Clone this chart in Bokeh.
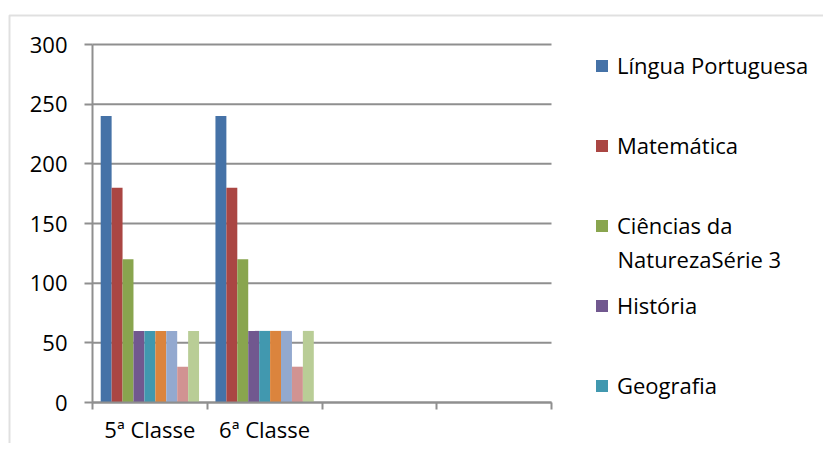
from bokeh.plotting import figure
from bokeh.models import (Range1d, FixedTicker, Legend, LegendItem, ColumnDataSource,
                          BoxAnnotation, Label)
from bokeh.transform import dodge
from bokeh.embed import file_html
from bokeh.resources import INLINE

# ---- data ----
categories = ["5ª Classe", "6ª Classe"]
n_slots = 4  # category slots on the axis (two are empty)
series_names = ["Língua Portuguesa", "Matemática", "Ciências da NaturezaSérie 3",
                "História", "Geografia", "Série 6", "Série 7", "Série 8", "Série 9"]
legend_labels = ["Língua Portuguesa", "Matemática", "Ciências da", "História", "Geografia"]
legend_wrap = "NaturezaSérie 3"
lingua_portuguesa = [240, 240]
matematica = [180, 180]
ciencias = [120, 120]
historia = [60, 60]
geografia = [60, 60]
serie6 = [60, 60]
serie7 = [60, 60]
serie8 = [30, 30]
serie9 = [60, 60]
y_ticks = [0, 50, 100, 150, 200, 250, 300]
y_max = 300

series_values = [lingua_portuguesa, matematica, ciencias, historia, geografia,
                 serie6, serie7, serie8, serie9]
colors = ["#4572A7", "#AA4643", "#89A54E", "#71588F", "#4198AF",
          "#DB843D", "#93A9CF", "#D19392", "#B9CD96"]

FONT = "Open Sans"
FS = "22px"
GRID = "#8f8f8f"
BORDER = "#989898"

data = {"x": [i + 0.5 for i in range(len(categories))]}
keys = []
for i, vals in enumerate(series_values):
    k = f"s{i}"
    keys.append(k)
    data[k] = vals
source = ColumnDataSource(data)

# layout: canvas px of the plot area
W, H = 823, 443
PL, PT, PR, PB = 92, 44, 551, 402
sx = (PR - PL) / n_slots
sy = (PB - PT) / y_max
x_range = Range1d(-PL / sx, (W - PL) / sx)
y_range = Range1d(-(H - PB) / sy, y_max + PT / sy)

p = figure(width=W, height=H, output_backend="svg", toolbar_location=None,
           x_range=x_range, y_range=y_range,
           min_border_left=0, min_border_top=0, min_border_right=0, min_border_bottom=0)
p.outline_line_color = None
p.background_fill_color = "white"
p.border_fill_color = "white"
p.xgrid.visible = False
p.ygrid.visible = False

# horizontal gridlines over the plot area only
p.segment(x0=[0] * len(y_ticks), x1=[n_slots] * len(y_ticks), y0=y_ticks, y1=y_ticks,
          line_color=GRID, line_width=2)

n = len(series_values)
bw = 1.0 / (n + 1.5)
renderers = []
for i, k in enumerate(keys):
    off = (i - (n - 1) / 2) * bw
    r = p.vbar(x=dodge("x", off, range=p.x_range), top=k, width=bw, bottom=0,
               source=source, fill_color=colors[i], line_color=None)
    renderers.append(r)

# y axis
ya = p.yaxis[0]
ya.fixed_location = 0
ya.bounds = (0, y_max)
ya.ticker = FixedTicker(ticks=y_ticks)
ya.major_tick_out = 8
ya.major_tick_in = 0
ya.minor_tick_line_color = None
ya.axis_line_color = GRID
ya.axis_line_width = 2
ya.major_tick_line_color = GRID
ya.major_tick_line_width = 2
ya.major_label_standoff = 17
ya.major_label_text_font = FONT
ya.major_label_text_font_size = FS
ya.major_label_text_color = "black"

# x axis
xa = p.xaxis[0]
xa.fixed_location = 0
xa.bounds = (0, n_slots)
xa.ticker = FixedTicker(ticks=data["x"], minor_ticks=list(range(n_slots + 1)))
xa.major_label_overrides = {x: c for x, c in zip(data["x"], categories)}
xa.major_tick_out = 0
xa.major_tick_in = 0
xa.minor_tick_out = 7
xa.minor_tick_in = 0
xa.minor_tick_line_color = GRID
xa.minor_tick_line_width = 2
xa.axis_line_color = GRID
xa.axis_line_width = 2
xa.major_label_standoff = 4
xa.major_label_text_font = FONT
xa.major_label_text_font_size = FS
xa.major_label_text_color = "black"

# legend (Excel-style, clipped after the fifth entry)
items = [LegendItem(label=lab, renderers=[renderers[i]]) for i, lab in enumerate(legend_labels)]
item_h = 80
legend_top = 25
legend = Legend(items=items, location=(594, H - legend_top - item_h * len(items)),
                margin=0, padding=0, spacing=0,
                glyph_width=15, glyph_height=15, label_height=item_h, label_standoff=8,
                label_text_font=FONT, label_text_font_size=FS, label_text_color="black",
                border_line_color=None, background_fill_alpha=0)
p.add_layout(legend)
p.add_layout(Label(x=617, y=H - 258, x_units="screen", y_units="screen",
                   text=legend_wrap, text_font=FONT, text_font_size=FS,
                   text_baseline="middle", text_align="left", text_color="black"))

# chart-area border (top and left edges visible)
p.add_layout(BoxAnnotation(left=9, right=W + 40, top=H - 15, bottom=-40,
                           left_units="screen", right_units="screen",
                           top_units="screen", bottom_units="screen",
                           fill_alpha=0, line_color=BORDER, line_width=2))

open("out.html", "w").write(file_html(p, INLINE))
